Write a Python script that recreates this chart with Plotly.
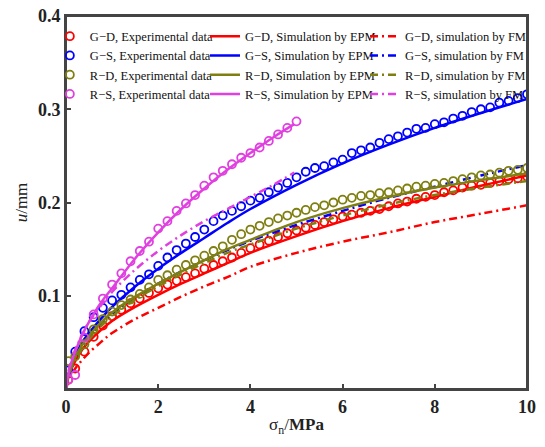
import plotly.graph_objects as go

# ---------------- data ----------------
sigma_exp = [0.05, 0.2, 0.4, 0.6, 0.8, 1.0, 1.2, 1.4, 1.6, 1.8, 2.0, 2.2, 2.4, 2.6, 2.8, 3.0,
             3.2, 3.4, 3.6, 3.8, 4.0, 4.2, 4.4, 4.6, 4.8, 5.0, 5.2, 5.4, 5.6, 5.8, 6.0, 6.2,
             6.4, 6.6, 6.8, 7.0, 7.2, 7.4, 7.6, 7.8, 8.0, 8.2, 8.4, 8.6, 8.8, 9.0, 9.2, 9.4,
             9.6, 9.8, 10.0]
gd_exp = [0.010, 0.022, 0.040, 0.056, 0.068, 0.078, 0.085, 0.092, 0.097, 0.103, 0.108, 0.112,
          0.116, 0.120, 0.124, 0.129, 0.133, 0.137, 0.141, 0.146, 0.151, 0.155, 0.159, 0.163,
          0.167, 0.170, 0.173, 0.176, 0.179, 0.182, 0.185, 0.187, 0.189, 0.191, 0.193, 0.196,
          0.199, 0.201, 0.204, 0.206, 0.208, 0.211, 0.213, 0.216, 0.218, 0.219, 0.221, 0.223,
          0.225, 0.226, 0.228]
gs_exp = [0.020, 0.040, 0.062, 0.077, 0.087, 0.095, 0.101, 0.109, 0.117, 0.123, 0.132, 0.141,
          0.149, 0.156, 0.163, 0.171, 0.180, 0.186, 0.191, 0.196, 0.202, 0.205, 0.211, 0.216,
          0.221, 0.227, 0.233, 0.237, 0.239, 0.243, 0.246, 0.253, 0.256, 0.259, 0.264, 0.268,
          0.271, 0.275, 0.279, 0.280, 0.284, 0.286, 0.290, 0.293, 0.297, 0.300, 0.302, 0.307,
          0.309, 0.312, 0.316]
rd_exp = [0.030, 0.035, 0.048, 0.064, 0.075, 0.083, 0.090, 0.096, 0.102, 0.109, 0.117, 0.122,
          0.128, 0.133, 0.138, 0.143, 0.148, 0.153, 0.160, 0.166, 0.171, 0.175, 0.179, 0.183,
          0.186, 0.189, 0.192, 0.195, 0.197, 0.200, 0.203, 0.205, 0.207, 0.208, 0.210, 0.211,
          0.213, 0.215, 0.217, 0.218, 0.220, 0.221, 0.223, 0.225, 0.227, 0.229, 0.230, 0.232,
          0.234, 0.235, 0.237]
sigma_rs_exp = [0.05, 0.2, 0.4, 0.6, 0.8, 1.0, 1.2, 1.4, 1.6, 1.8, 2.0, 2.2, 2.4, 2.6, 2.8,
                3.0, 3.2, 3.4, 3.6, 3.8, 4.0, 4.2, 4.4, 4.6, 4.8, 5.0]
rs_exp = [0.010, 0.015, 0.055, 0.080, 0.097, 0.112, 0.124, 0.137, 0.148, 0.158, 0.172, 0.180,
          0.191, 0.199, 0.208, 0.218, 0.227, 0.234, 0.241, 0.248, 0.253, 0.259, 0.266, 0.273,
          0.280, 0.287]

sigma_line = [0, 0.05, 0.1, 0.2, 0.35, 0.5, 0.75, 1, 1.5, 2, 2.5, 3, 3.5, 4, 5, 6, 7, 8, 9, 10]
gd_epm = [0, 0.012, 0.020, 0.030, 0.042, 0.051, 0.063, 0.073, 0.088, 0.101, 0.113, 0.124,
          0.135, 0.146, 0.164, 0.180, 0.194, 0.206, 0.218, 0.229]
gs_epm = [0, 0.015, 0.024, 0.036, 0.050, 0.060, 0.075, 0.088, 0.110, 0.129, 0.146, 0.162,
          0.178, 0.193, 0.219, 0.242, 0.262, 0.280, 0.296, 0.311]
rd_epm = [0, 0.014, 0.022, 0.034, 0.047, 0.057, 0.071, 0.082, 0.099, 0.113, 0.126, 0.138,
          0.150, 0.160, 0.179, 0.194, 0.206, 0.216, 0.224, 0.231]
gd_fm = [0, 0.008, 0.014, 0.022, 0.031, 0.039, 0.050, 0.060, 0.075, 0.087, 0.099, 0.110,
         0.120, 0.131, 0.146, 0.158, 0.168, 0.179, 0.188, 0.197]
gs_fm = [0, 0.012, 0.020, 0.031, 0.044, 0.054, 0.068, 0.080, 0.098, 0.113, 0.126, 0.138,
         0.149, 0.159, 0.176, 0.191, 0.205, 0.217, 0.229, 0.240]
rd_fm = [0, 0.012, 0.020, 0.031, 0.043, 0.053, 0.067, 0.078, 0.096, 0.110, 0.123, 0.135,
         0.146, 0.155, 0.172, 0.186, 0.198, 0.208, 0.216, 0.223]

sigma_rs_line = [0, 0.05, 0.1, 0.2, 0.35, 0.5, 0.75, 1, 1.5, 2, 2.5, 3, 3.5, 4, 4.5, 4.95]
rs_epm = [0, 0.016, 0.026, 0.040, 0.058, 0.072, 0.092, 0.108, 0.140, 0.168, 0.193, 0.215,
          0.235, 0.253, 0.270, 0.284]
rs_fm = [0, 0.018, 0.028, 0.042, 0.058, 0.072, 0.089, 0.104, 0.128, 0.148, 0.165, 0.180,
         0.193, 0.206, 0.219, 0.232]

x_ticks = [0, 2, 4, 6, 8, 10]
y_ticks = [0.1, 0.2, 0.3, 0.4]

# ---------------- style ----------------
RED = "#FF0000"
BLUE = "#0000FF"
OLIVE = "#7F7F10"
MAG = "#E040E0"
SERIF = "Liberation Serif"
DASHDOT = "8px,4px,2px,4px"
FRAME = "#444"

groups = [
    ("G−D", RED, sigma_exp, gd_exp, sigma_line, gd_epm, sigma_line, gd_fm),
    ("G−S", BLUE, sigma_exp, gs_exp, sigma_line, gs_epm, sigma_line, gs_fm),
    ("R−D", OLIVE, sigma_exp, rd_exp, sigma_line, rd_epm, sigma_line, rd_fm),
    ("R−S", MAG, sigma_rs_exp, rs_exp, sigma_rs_line, rs_epm, sigma_rs_line, rs_fm),
]

fig = go.Figure()
for name, col, xe, ye, xl, yl, xf, yf in groups:
    fig.add_trace(go.Scatter(
        x=xe, y=ye, mode="markers", name=f"{name}, Experimental data", legend="legend",
        marker=dict(symbol="circle-open", size=8, color=col, line=dict(width=1.8, color=col)),
    ))
    fig.add_trace(go.Scatter(
        x=xl, y=yl, mode="lines", name=f"{name}, Simulation by EPM", legend="legend2",
        line=dict(color=col, width=2.5, shape="spline"),
    ))
    fig.add_trace(go.Scatter(
        x=xf, y=yf, mode="lines", name=f"{name}, simulation by FM", legend="legend3",
        line=dict(color=col, width=2.5, dash=DASHDOT, shape="spline"),
    ))

axis_common = dict(
    showgrid=False, zeroline=False, showline=True, linecolor=FRAME, linewidth=2,
    mirror=True, ticks="inside", ticklen=5, tickwidth=1.5, tickcolor=FRAME,
    tickfont=dict(family=SERIF, size=18, color="#222", weight="bold"),
)

legend_common = dict(
    orientation="v", y=0.985, xanchor="left", yanchor="top",
    font=dict(family=SERIF, size=12.5, color="#111"),
    bgcolor="rgba(0,0,0,0)", itemwidth=30, tracegroupgap=0,
)

fig.update_layout(
    width=545, height=447,
    margin=dict(l=66, r=18, t=16, b=58, autoexpand=False),
    paper_bgcolor="white", plot_bgcolor="white",
    font=dict(family=SERIF, color="#222"),
    showlegend=True,
    legend=dict(x=-0.035, **legend_common),
    legend2=dict(x=0.3015, **legend_common),
    legend3=dict(x=0.6486, **legend_common),
    xaxis=dict(range=[0, 10], tickvals=x_ticks, **axis_common,
               title=dict(text="σ<sub>n</sub>/<b>MPa</b>", standoff=3,
                          font=dict(family=SERIF, size=17, color="#222"))),
    yaxis=dict(range=[0, 0.4], tickvals=y_ticks, tickformat=".1f", **axis_common,
               title=dict(text="<i>u</i>/mm", standoff=6,
                          font=dict(family=SERIF, size=17, color="#222"))),
    shapes=[dict(type="rect", xref="paper", yref="paper", x0=0, x1=1, y0=0, y1=1,
                 line=dict(color=FRAME, width=2), fillcolor="rgba(0,0,0,0)", layer="above")],
)

fig.write_html(
    "out.html",
    config={"displayModeBar": False},
    post_script="document.body.style.margin='0px';document.body.style.overflow='hidden';",
)
